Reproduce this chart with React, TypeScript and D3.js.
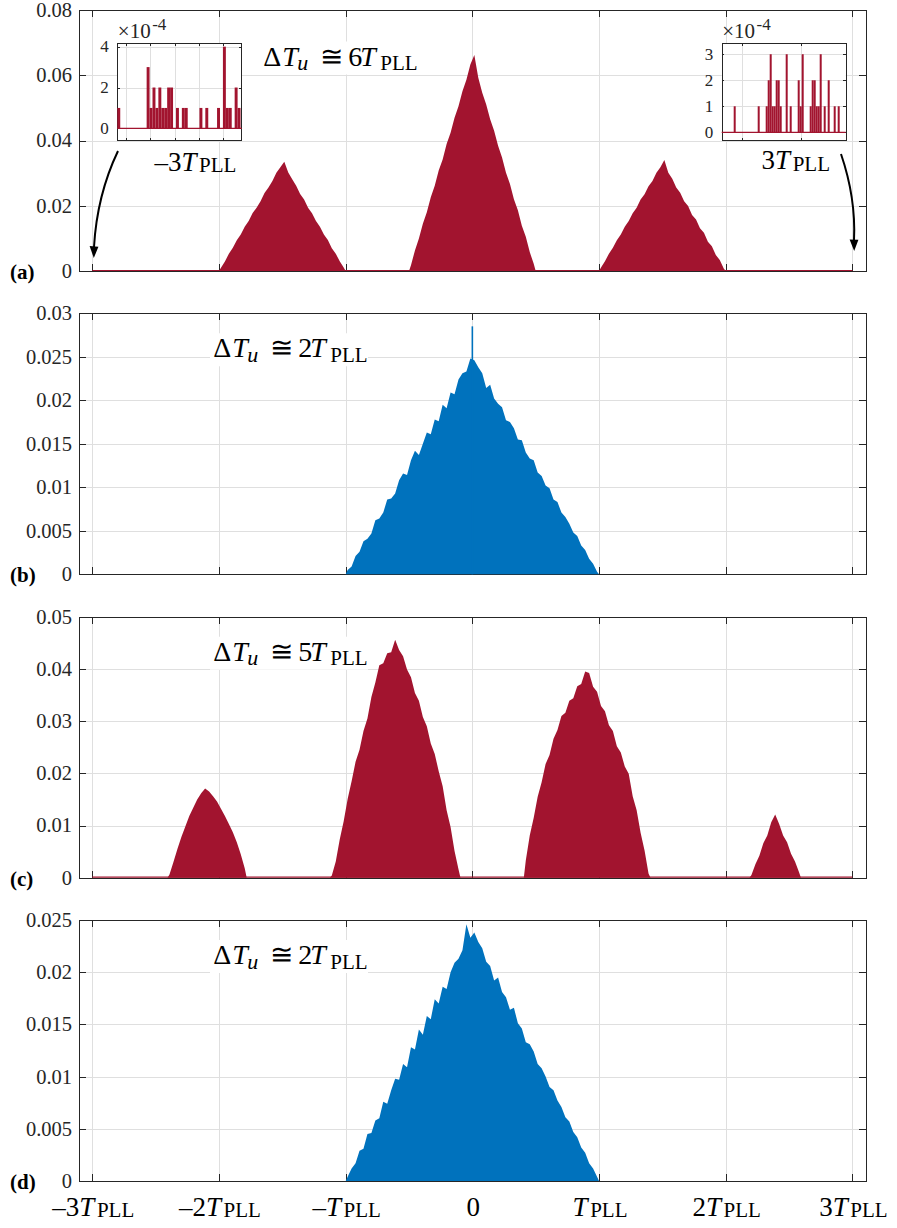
import React from "react";
import * as d3 from "d3";

// histogram bin width, in units of T_PLL
const BIN = 1 / 32;
const RED = "#A2142F";
const BLUE = "#0072BD";
const AXIS = "#262626";
const GRID = "#dfdfdf";
const FONT = "'Liberation Serif', 'Times New Roman', serif";

const xTicks = [-3, -2, -1, 0, 1, 2, 3];
const xTickPre = ["–3", "–2", "–", "0", "", "2", "3"];
const xTickHasT = [true, true, true, false, true, true, true];

// (a) dT_u ~ 6 T_PLL
const aYTicks = [0, 0.02, 0.04, 0.06, 0.08];
const aStarts = [-2, -0.5, 1];
const aPeak1 = [0.001, 0.0029, 0.0053, 0.0071, 0.0094, 0.0112, 0.0136, 0.0153, 0.0178, 0.0194, 0.0214, 0.0239, 0.0256, 0.0276, 0.0301, 0.0318,
  0.0335, 0.0302, 0.0281, 0.0261, 0.0236, 0.0219, 0.0194, 0.0177, 0.0153, 0.0136, 0.0112, 0.0095, 0.007, 0.0053, 0.003, 0.0011];
const aPeak2 = [0.0018, 0.0063, 0.01, 0.0145, 0.018, 0.0226, 0.0261, 0.0308, 0.0342, 0.0389, 0.0424, 0.047, 0.0505, 0.0551, 0.0586, 0.0633,
  0.0662, 0.0592, 0.0546, 0.051, 0.0465, 0.043, 0.0384, 0.0348, 0.0301, 0.0267, 0.022, 0.0186, 0.0139, 0.0105, 0.0058, 0.0022];
const aPeak3 = [0.0011, 0.003, 0.0053, 0.0071, 0.0094, 0.0112, 0.0136, 0.0153, 0.0177, 0.0194, 0.0219, 0.0235, 0.026, 0.0276, 0.0301, 0.0318,
  0.034, 0.0301, 0.0283, 0.0256, 0.024, 0.0214, 0.0199, 0.0172, 0.0158, 0.0131, 0.0117, 0.009, 0.0076, 0.0049, 0.0034, 0.0008];

// (b) dT_u ~ 2 T_PLL
const bYTicks = [0, 0.005, 0.01, 0.015, 0.02, 0.025, 0.03];
const bStarts = [-1];
const bPeak = [0.0005, 0.0009, 0.0021, 0.0026, 0.0038, 0.0041, 0.0047, 0.0062, 0.0064, 0.0071, 0.0086, 0.0087, 0.0093, 0.0108, 0.0116, 0.0114,
  0.0131, 0.0142, 0.0137, 0.015, 0.0163, 0.0161, 0.0178, 0.0176, 0.0195, 0.0191, 0.0209, 0.0207, 0.0224, 0.0231, 0.0233, 0.0248,
  0.0246, 0.0238, 0.0231, 0.0214, 0.0218, 0.0202, 0.0196, 0.0192, 0.0177, 0.0175, 0.0168, 0.0155, 0.0154, 0.014, 0.0133, 0.0131,
  0.0117, 0.0113, 0.0102, 0.0099, 0.0086, 0.0083, 0.0071, 0.0066, 0.0058, 0.0048, 0.0044, 0.0033, 0.0028, 0.0018, 0.0012, 0.0003];
const bSpikeX = [0];
const bSpikeY = [0.0285];

// (c) dT_u ~ 5 T_PLL
const cYTicks = [0, 0.01, 0.02, 0.03, 0.04, 0.05];
const cStarts = [-77 / 32, -36 / 32, 13 / 32, 70 / 32];
const cPeak1 = [0.0006, 0.003, 0.0055, 0.0078, 0.0098, 0.0118, 0.0134, 0.015, 0.0162, 0.0171, 0.0165, 0.0156, 0.0146, 0.0132, 0.0118, 0.0103,
  0.0087, 0.0068, 0.0045, 0.0018];
const cPeak2 = [0.0004, 0.0031, 0.0073, 0.0108, 0.0151, 0.0185, 0.0222, 0.0245, 0.0281, 0.0305, 0.0346, 0.0374, 0.0407, 0.0411, 0.043, 0.0432,
  0.0456, 0.0436, 0.0424, 0.0399, 0.0384, 0.0354, 0.0339, 0.0308, 0.029, 0.0257, 0.0237, 0.0204, 0.0175, 0.0129, 0.0097, 0.0051, 0.0016];
const cPeak3 = [0.0033, 0.0081, 0.0115, 0.0155, 0.0183, 0.0218, 0.0235, 0.0266, 0.0283, 0.031, 0.0316, 0.0339, 0.0344, 0.0367, 0.0371, 0.0395,
  0.0392, 0.0366, 0.0356, 0.0329, 0.0319, 0.0292, 0.0281, 0.0252, 0.024, 0.0213, 0.0199, 0.0156, 0.0129, 0.0086, 0.0052, 0.0008];
const cPeak4 = [0.0005, 0.0026, 0.0042, 0.0066, 0.0081, 0.0106, 0.0121, 0.0103, 0.0081, 0.0068, 0.0046, 0.0031, 0.0011];

// (d) dT_u ~ 2 T_PLL
const dYTicks = [0, 0.005, 0.01, 0.015, 0.02, 0.025];
const dStarts = [-1];
const dPeak = [0.0004, 0.0012, 0.0017, 0.0029, 0.0031, 0.0045, 0.0046, 0.0058, 0.006, 0.0076, 0.0074, 0.0087, 0.0098, 0.0097, 0.0112, 0.0109,
  0.0128, 0.0126, 0.0145, 0.014, 0.0158, 0.0155, 0.0174, 0.017, 0.0186, 0.0184, 0.02, 0.0209, 0.0213, 0.0221, 0.0246, 0.0233,
  0.0238, 0.0229, 0.0223, 0.021, 0.0206, 0.0192, 0.0195, 0.0181, 0.0176, 0.0164, 0.0166, 0.0151, 0.0146, 0.0133, 0.0131, 0.0124,
  0.0112, 0.0108, 0.01, 0.009, 0.0087, 0.0077, 0.0071, 0.0061, 0.0057, 0.0047, 0.0042, 0.0032, 0.0027, 0.0017, 0.0012, 0.0004];

// insets of (a), counts x1e-4 around -3T and +3T
const inLeftVals = [1, 0, 0, 0, 0, 0, 0, 0, 0, 0, 3, 1, 2, 1, 2, 1, 1, 2, 2, 0, 1, 0, 1, 1, 0, 0, 0, 0, 1, 0, 1, 0, 0, 0, 1, 0, 4, 1, 1, 0, 2, 1];
const inLeftXTicks = [2.95, 11.25, 19.5, 27.8, 36.1];
const inLeftYTicks = [0, 2, 4];
const inRightVals = [0, 0, 0, 0, 0, 0, 1, 0, 0, 0, 0, 0, 0, 0, 0, 0, 0, 0, 1, 0, 0, 0, 1, 2, 3, 1, 1, 2, 2, 1, 0, 0, 3, 0, 1, 0, 0, 0, 2, 1, 3,
  0, 0, 0, 1, 2, 2, 1, 1, 3, 0, 1, 0, 2, 0, 0, 1, 0, 1, 0, 0, 0];
const inRightXTicks = [10, 39.5];
const inRightYTicks = [0, 1, 2, 3];

const LEFT = 79;
const RIGHT = 866;
const PH = 261;
const x = d3.scaleLinear().domain([-3, 3]).range([92.3, 852.4]);
const crisp = (v: number) => Math.round(v) + 0.5;

const panels = [
  { tag: "(a)", top: 10, ymax: 0.08, ticks: aYTicks, starts: aStarts, peaks: [aPeak1, aPeak2, aPeak3], color: RED, base: true, n: "6", tx: 263.3, tb: 65.5, bg: [258, 380] },
  { tag: "(b)", top: 313.3, ymax: 0.03, ticks: bYTicks, starts: bStarts, peaks: [bPeak], color: BLUE, base: false, n: "2", tx: 213.3, tb: 357.3, bg: [210, 368], sx: bSpikeX, sy: bSpikeY },
  { tag: "(c)", top: 616.7, ymax: 0.05, ticks: cYTicks, starts: cStarts, peaks: [cPeak1, cPeak2, cPeak3, cPeak4], color: RED, base: true, n: "5", tx: 213.3, tb: 660.7, bg: [210, 368] },
  { tag: "(d)", top: 920, ymax: 0.025, ticks: dYTicks, starts: dStarts, peaks: [dPeak], color: BLUE, base: false, n: "2", tx: 213.3, tb: 964, bg: [210, 368] },
];

function Annot({ x0, base, n }: { x0: number; base: number; n: string }) {
  const sub = base + 4.5;
  return (
    <text fontFamily={FONT} fontSize={28} fill="#000">
      <tspan x={x0} y={base}>Δ</tspan>
      <tspan x={x0 + 19} y={base} fontStyle="italic">T</tspan>
      <tspan x={x0 + 34} y={sub} fontStyle="italic" fontSize={22}>u</tspan>
      <tspan x={x0 + 57} y={base}>≅</tspan>
      <tspan x={x0 + 85} y={base}>{n}</tspan>
      <tspan x={x0 + 97} y={base} fontStyle="italic">T</tspan>
      <tspan x={x0 + 117} y={sub} fontSize={21}>PLL</tspan>
    </text>
  );
}

function TLabel({ cx, base, pre, hasT }: { cx: number; base: number; pre: string; hasT: boolean }) {
  return (
    <text x={cx} y={base} textAnchor="middle" fontFamily={FONT} fontSize={27} fill="#000">
      <tspan>{pre}</tspan>
      {hasT && <tspan fontStyle="italic">T</tspan>}
      {hasT && (
        <tspan fontSize={21} dx={2.5} dy={1.5}>
          PLL
        </tspan>
      )}
    </text>
  );
}

function Panel({ p, showX }: { p: any; showX: boolean }) {
  const y = d3.scaleLinear().domain([0, p.ymax]).range([p.top + PH, p.top]);
  const bottom = p.top + PH;
  const area = d3
    .area<number[]>()
    .x((d) => x(d[0]))
    .y0(y(0))
    .y1((d) => y(d[1]));
  return (
    <g>
      <rect x={LEFT} y={p.top} width={RIGHT - LEFT} height={PH} fill="#fff" />
      <g stroke={GRID} strokeWidth={1} shapeRendering="crispEdges">
        {xTicks.map((t) => (
          <line key={"gx" + t} x1={crisp(x(t))} x2={crisp(x(t))} y1={p.top} y2={bottom} />
        ))}
        {p.ticks.slice(1, -1).map((t: number) => (
          <line key={"gy" + t} x1={LEFT} x2={RIGHT} y1={crisp(y(t))} y2={crisp(y(t))} />
        ))}
      </g>
      <g stroke={AXIS} strokeWidth={1} shapeRendering="crispEdges">
        <rect x={crisp(LEFT)} y={crisp(p.top)} width={RIGHT - LEFT} height={PH} fill="none" />
        {xTicks.map((t) => (
          <g key={"tx" + t}>
            <line x1={crisp(x(t))} x2={crisp(x(t))} y1={bottom} y2={bottom - 7} />
            <line x1={crisp(x(t))} x2={crisp(x(t))} y1={p.top} y2={p.top + 7} />
          </g>
        ))}
        {p.ticks.map((t: number) => (
          <g key={"ty" + t}>
            <line x1={LEFT} x2={LEFT + 7} y1={crisp(y(t))} y2={crisp(y(t))} />
            <line x1={RIGHT} x2={RIGHT - 7} y1={crisp(y(t))} y2={crisp(y(t))} />
          </g>
        ))}
      </g>
      {p.ticks.map((t: number) => (
        <text key={"yl" + t} x={72} y={y(t)} dy="0.34em" textAnchor="end" fontFamily={FONT} fontSize={20.5} fill={AXIS}>
          {String(t)}
        </text>
      ))}
      {p.base && <line x1={x(-3)} x2={x(3)} y1={bottom - 0.5} y2={bottom - 0.5} stroke={p.color} strokeWidth={1.2} />}
      {p.peaks.map((vals: number[], i: number) => {
        const s = p.starts[i];
        const pts = [[s, 0]]
          .concat(vals.map((v, k) => [s + (k + 0.5) * BIN, v]))
          .concat([[s + vals.length * BIN, 0]]);
        return <path key={"pk" + i} d={area(pts) || ""} fill={p.color} />;
      })}
      {p.sx &&
        p.sx.map((sx: number, i: number) => (
          <rect key={"sp" + i} x={x(sx) - 0.8} width={1.6} y={y(p.sy[i])} height={y(0) - y(p.sy[i])} fill={p.color} />
        ))}
      <rect x={p.bg[0]} y={p.tb - 24} width={p.bg[1] - p.bg[0]} height={33} fill="#fff" />
      <Annot x0={p.tx} base={p.tb} n={p.n} />
      <text x={10} y={bottom + 8} fontFamily={FONT} fontWeight="bold" fontSize={21} fill="#000">
        {p.tag}
      </text>
      {showX &&
        xTicks.map((t, i) => <TLabel key={"xl" + t} cx={x(t) + 1} base={1215.7} pre={xTickPre[i]} hasT={xTickHasT[i]} />)}
    </g>
  );
}

function Inset({ box, n, yDom, xt, yt, vals, labX }: any) {
  const ix = d3.scaleLinear().domain([0, n]).range([box[0], box[1]]);
  const iy = d3.scaleLinear().domain(yDom).range([box[3], box[2]]);
  return (
    <g>
      <rect x={box[0]} y={box[2]} width={box[1] - box[0]} height={box[3] - box[2]} fill="#fff" />
      <g stroke={GRID} shapeRendering="crispEdges">
        {xt.map((t: number) => (
          <line key={"ix" + t} x1={crisp(ix(t))} x2={crisp(ix(t))} y1={box[2]} y2={box[3]} />
        ))}
        {yt.map((t: number) => (
          <line key={"iy" + t} x1={box[0]} x2={box[1]} y1={crisp(iy(t))} y2={crisp(iy(t))} />
        ))}
      </g>
      <g stroke={AXIS} shapeRendering="crispEdges">
        <rect x={crisp(box[0])} y={crisp(box[2])} width={box[1] - box[0]} height={box[3] - box[2]} fill="none" />
        {xt.map((t: number) => (
          <g key={"itx" + t}>
            <line x1={crisp(ix(t))} x2={crisp(ix(t))} y1={box[3]} y2={box[3] - 2.5} />
            <line x1={crisp(ix(t))} x2={crisp(ix(t))} y1={box[2]} y2={box[2] + 2.5} />
          </g>
        ))}
        {yt.map((t: number) => (
          <g key={"ity" + t}>
            <line x1={box[0]} x2={box[0] + 2.5} y1={crisp(iy(t))} y2={crisp(iy(t))} />
            <line x1={box[1]} x2={box[1] - 2.5} y1={crisp(iy(t))} y2={crisp(iy(t))} />
          </g>
        ))}
      </g>
      {yt.map((t: number) => (
        <text key={"iyl" + t} x={box[0] - 8.5} y={iy(t)} dy="0.34em" textAnchor="end" fontFamily={FONT} fontSize={17} fill={AXIS}>
          {String(t)}
        </text>
      ))}
      <text x={box[0] + 0.5} y={38} fontFamily={FONT} fontSize={21} fill={AXIS}>
        <tspan>×10</tspan>
        <tspan fontSize={17} dy={-8} dx={1.5}>-4</tspan>
      </text>
      {vals.map((v: number, i: number) =>
        v > 0 ? <rect key={"b" + i} x={ix(i)} width={ix(i + 1) - ix(i)} y={iy(v)} height={iy(0) - iy(v)} fill={RED} /> : null
      )}
      <line x1={box[0]} x2={box[1]} y1={iy(0)} y2={iy(0)} stroke={RED} strokeWidth={1.2} />
      <TLabel cx={labX[0]} base={labX[1]} pre={labX[2]} hasT={true} />
    </g>
  );
}

export default function App() {
  return (
    <svg width={897} height={1228} style={{ position: "absolute", left: 0, top: 0, background: "#fff" }}>
      <rect width={897} height={1228} fill="#fff" />
      {panels.map((p, i) => (
        <Panel key={p.tag} p={p} showX={i === panels.length - 1} />
      ))}
      <Inset
        box={[117.3, 241.7, 43, 140]}
        n={42.4}
        yDom={[-0.57, 4.18]}
        xt={inLeftXTicks}
        yt={inLeftYTicks}
        vals={inLeftVals}
        labX={[195.5, 170.7, "–3"]}
      />
      <Inset
        box={[721.7, 845.7, 43.3, 140]}
        n={62}
        yDom={[-0.296, 3.42]}
        xt={inRightXTicks}
        yt={inRightYTicks}
        vals={inRightVals}
        labX={[795.8, 169.3, "3"]}
      />
      <g stroke="#000" strokeWidth={2} fill="none">
        <path d="M118,151 Q97,195 94,247" />
        <path d="M841,154 Q856,198 854,240" />
      </g>
      <polygon points="93.8,258 89.6,246 98.4,246.8" fill="#000" />
      <polygon points="854.2,251 849.6,239.5 858.4,239.8" fill="#000" />
    </svg>
  );
}
